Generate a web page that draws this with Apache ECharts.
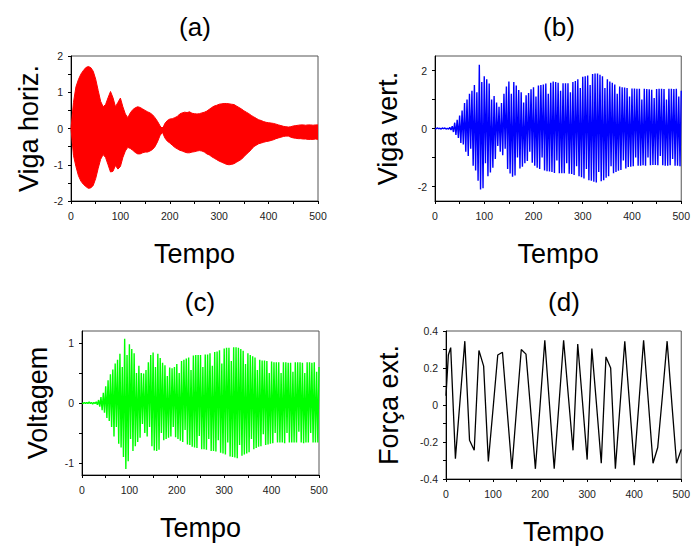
<!DOCTYPE html>
<html>
<head>
<meta charset="utf-8">
<script src="https://cdn.jsdelivr.net/npm/echarts@6/dist/echarts.min.js"></script>
<style>
  html, body { margin: 0; padding: 0; background: #fff; }
  #chart { width: 693px; height: 546px; }
</style>
</head>
<body>
<div id="chart"></div>
<script>
// ---------------- DATA ----------------
const panelTitles = ['(a)', '(b)', '(c)', '(d)'];
const yNames = ['Viga horiz.', 'Viga vert.', 'Voltagem', 'Força ext.'];
const xName = 'Tempo';
const xTickLabels = [0, 100, 200, 300, 400, 500];

// (a) horizontal beam: envelope of the dense oscillation, sampled every 5 time units (t = 0..500)
const aStep = 5;
const aUpper = [
  0, 0.72, 1.15, 1.35, 1.5, 1.6, 1.68, 1.71, 1.68, 1.58,
  1.36, 1.05, 0.75, 0.6, 0.66, 0.85, 1.02, 0.85, 0.6, 0.72,
  0.84, 0.6, 0.4, 0.3, 0.43, 0.52, 0.57, 0.6, 0.58, 0.54,
  0.5, 0.46, 0.43, 0.38, 0.3, 0.2, 0.08, -0.02, 0.14, 0.22,
  0.26, 0.27, 0.3, 0.33, 0.4, 0.43, 0.45, 0.44, 0.46, 0.42,
  0.41, 0.4, 0.41, 0.43, 0.45, 0.48, 0.53, 0.58, 0.62, 0.64,
  0.67, 0.68, 0.69, 0.69, 0.68, 0.67, 0.66, 0.62, 0.58, 0.54,
  0.49, 0.45, 0.41, 0.36, 0.32, 0.28, 0.24, 0.22, 0.19, 0.17,
  0.16, 0.15, 0.14, 0.12, 0.1, 0.08, 0.06, 0.05, 0.04, 0.05,
  0.07, 0.08, 0.09, 0.1, 0.1, 0.09, 0.1, 0.1, 0.09, 0.1,
  0.1
];
const aLower = [
  0, -0.74, -1.05, -1.3, -1.45, -1.54, -1.6, -1.65, -1.64, -1.57,
  -1.38, -1.1, -0.85, -0.72, -0.8, -1.0, -1.2, -1.18, -1.02, -1.12,
  -1.05, -0.8, -0.62, -0.52, -0.55, -0.6, -0.66, -0.7, -0.7, -0.67,
  -0.65, -0.65, -0.62, -0.58, -0.5, -0.37, -0.2, -0.1, -0.26, -0.35,
  -0.4, -0.46, -0.52, -0.56, -0.6, -0.62, -0.65, -0.67, -0.67, -0.65,
  -0.64, -0.62, -0.61, -0.62, -0.65, -0.7, -0.73, -0.78, -0.82, -0.86,
  -0.9, -0.93, -0.96, -0.99, -1.0, -0.99, -0.97, -0.93, -0.89, -0.85,
  -0.78, -0.71, -0.65, -0.58, -0.5, -0.46, -0.42, -0.4, -0.38, -0.36,
  -0.35, -0.33, -0.31, -0.28, -0.26, -0.24, -0.22, -0.21, -0.21, -0.24,
  -0.26, -0.27, -0.28, -0.28, -0.29, -0.29, -0.3, -0.3, -0.3, -0.29,
  -0.3
];

// (b) vertical beam, samples every 2.5 time units (t = 0..500)
const bStep = 2.5;
const bVals = [
  0, -0.01, 0.02, -0.01, 0.01, -0.02, 0.02, -0.01, 0.02, -0.02, 0.01, -0.02,
  0.04, -0.05, 0.08, -0.12,
  0.2, -0.22, 0.3, -0.33,
  0.45, -0.5, 0.62, -0.55,
  0.88, -0.8, 1.0, -0.95,
  1.2, -0.7, 1.3, -1.28,
  1.5, -1.45, 1.25, -1.8,
  2.2, -2.1, 1.6, -2.06,
  1.8, -1.2, 1.7, -1.65,
  1.55, -1.52, 1.0, -1.35,
  1.12, -1.05, 0.9, -0.6,
  0.75, -0.8, 0.88, -0.92,
  1.2, -0.7, 1.45, -1.4,
  1.62, -1.55, 1.2, -1.66,
  1.6, -1.62, 1.48, -1.0,
  1.33, -1.38, 1.25, -1.32,
  0.9, -1.2, 1.15, -1.12,
  1.22, -0.8, 1.35, -1.18,
  1.42, -1.28, 1.1, -1.35,
  1.48, -1.4, 1.5, -1.0,
  1.52, -1.45, 1.55, -1.47,
  1.2, -1.48, 1.58, -1.5,
  1.62, -1.53, 1.6, -1.1,
  1.58, -1.54, 1.3, -1.54,
  1.56, -1.54, 1.56, -1.2,
  1.56, -1.56, 1.25, -1.57,
  1.6, -1.6, 1.64, -1.3,
  1.7, -1.65, 1.4, -1.68,
  1.78, -1.72, 1.8, -1.4,
  1.83, -1.78, 1.5, -1.8,
  1.88, -1.84, 1.9, -1.86,
  1.9, -1.5, 1.85, -1.82,
  1.8, -1.78, 1.4, -1.7,
  1.7, -1.65, 1.62, -1.3,
  1.58, -1.54, 1.52, -1.5,
  1.2, -1.46, 1.45, -1.43,
  1.42, -1.1, 1.41, -1.38,
  1.4, -1.33, 1.1, -1.32,
  1.38, -1.3, 1.38, -1.0,
  1.37, -1.28, 1.37, -1.28,
  1.0, -1.27, 1.37, -1.28,
  1.36, -1.0, 1.35, -1.27,
  1.34, -1.26, 1.05, -1.26,
  1.36, -1.27, 1.37, -0.95,
  1.37, -1.27, 1.36, -1.28,
  1.0, -1.28, 1.37, -1.27,
  1.37, -1.05, 1.36, -1.28,
  1.37, -1.28, 1.1, -1.3,
  1.3
];

// (c) voltage, samples every 2.5 time units (t = 0..500)
const cStep = 2.5;
const cVals = [
  0, -0.01, 0.01, -0.01, 0.01, -0.01, 0.02, -0.01, 0.01, -0.02, 0.01, -0.01,
  0.02, -0.03, 0.05, -0.06,
  0.1, -0.12, 0.17, -0.16,
  0.28, -0.25, 0.38, -0.3,
  0.48, -0.4, 0.56, -0.56,
  0.66, -0.4, 0.72, -0.68,
  0.82, -0.74, 0.6, -0.9,
  1.07, -1.1, 0.8, -0.97,
  0.98, -0.6, 0.9, -0.8,
  0.83, -0.72, 0.5, -0.65,
  0.62, -0.58, 0.5, -0.35,
  0.49, -0.5, 0.55, -0.56,
  0.68, -0.4, 0.8, -0.72,
  0.84, -0.79, 0.6, -0.8,
  0.82, -0.78, 0.75, -0.5,
  0.67, -0.62, 0.63, -0.6,
  0.45, -0.58, 0.59, -0.56,
  0.58, -0.4, 0.6, -0.57,
  0.65, -0.6, 0.5, -0.63,
  0.7, -0.65, 0.72, -0.45,
  0.74, -0.69, 0.76, -0.7,
  0.55, -0.73, 0.79, -0.74,
  0.8, -0.75, 0.8, -0.55,
  0.8, -0.77, 0.6, -0.77,
  0.81, -0.78, 0.81, -0.6,
  0.83, -0.8, 0.62, -0.8,
  0.85, -0.81, 0.86, -0.62,
  0.88, -0.83, 0.66, -0.84,
  0.91, -0.86, 0.92, -0.66,
  0.92, -0.89, 0.7, -0.9,
  0.93, -0.91, 0.93, -0.92,
  0.92, -0.7, 0.9, -0.88,
  0.87, -0.86, 0.65, -0.84,
  0.83, -0.82, 0.8, -0.6,
  0.78, -0.77, 0.76, -0.75,
  0.55, -0.73, 0.72, -0.72,
  0.71, -0.52, 0.71, -0.7,
  0.7, -0.69, 0.5, -0.68,
  0.69, -0.67, 0.68, -0.5,
  0.68, -0.66, 0.68, -0.66,
  0.5, -0.66, 0.68, -0.67,
  0.68, -0.5, 0.67, -0.66,
  0.67, -0.66, 0.52, -0.66,
  0.68, -0.66, 0.68, -0.48,
  0.68, -0.66, 0.67, -0.67,
  0.5, -0.66, 0.68, -0.66,
  0.68, -0.5, 0.67, -0.66,
  0.68, -0.66, 0.52, -0.66,
  0.6
];

// (d) external force
const dTime = [0, 5, 10, 20, 30, 40, 50, 60, 70, 80, 90, 100, 110, 120, 130, 140, 150, 160, 170, 180,
  190, 200, 210, 220, 230, 240, 250, 260, 270, 280, 290, 300, 310, 320, 330, 340, 350, 360, 370, 380,
  390, 400, 410, 420, 430, 440, 450, 460, 470, 480, 490, 500];
const dVals = [0.05, 0.27, 0.31, -0.29, 0.03, 0.345, -0.19, -0.245, 0.295, 0.21, -0.305, -0.02, 0.27, 0.285, -0.03, -0.345, -0.02, 0.3, 0.275, -0.03,
  -0.345, 0.0, 0.35, 0.0, -0.345, 0.0, 0.35, 0.05, -0.245, 0.33, 0.02, -0.295, 0.305, 0.0, -0.315, 0.26, 0.2, -0.345, 0.0, 0.345,
  0.01, -0.325, 0.01, 0.35, 0.02, -0.315, -0.23, 0.05, 0.345, 0.01, -0.315, -0.24];

// y-axis ranges / labels / ticks
const yMin = [-2, -2.5, -1.2, -0.4];
const yMax = [2, 2.5, 1.2, 0.4];
const yLabels = [[-2, -1, 0, 1, 2], [-2, 0, 2], [-1, 0, 1], [-0.4, -0.2, 0, 0.2, 0.4]];
const yTicks = [[-2, -1.5, -1, -0.5, 0, 0.5, 1, 1.5, 2], [-2, -1, 0, 1, 2], [-1, -0.5, 0, 0.5, 1],
  [-0.4, -0.3, -0.2, -0.1, 0, 0.1, 0.2, 0.3, 0.4]];
const xTicks = [0, 50, 100, 150, 200, 250, 300, 350, 400, 450, 500];

// ---------------- CHART ----------------
const FONT = "'Liberation Sans', Arial, sans-serif";
const pair = (step, vals) => vals.map((v, i) => [i * step, v]);

const grids = [
  { left: 71, top: 56, width: 247, height: 145 },
  { left: 435, top: 56, width: 248, height: 145 },
  { left: 82, top: 331, width: 237, height: 144 },
  { left: 446, top: 331, width: 237, height: 149 }
];
const yNameGaps = [29, 34, 31, 44];
const titlePos = [[195, 26.5], [559, 26.5], [200, 302], [564, 302]];

const xAxes = grids.map((g, i) => ({
  type: 'value', gridIndex: i, min: 0, max: 500,
  name: xName, nameLocation: 'middle', nameGap: 39,
  nameTextStyle: { fontFamily: FONT, fontSize: 27, color: '#000' },
  axisLine: { show: true, onZero: false, lineStyle: { color: '#000', width: 1 } },
  axisTick: { show: true, length: 3, inside: false, customValues: xTicks, lineStyle: { color: '#000' } },
  axisLabel: { show: true, customValues: xTickLabels, margin: 9, fontFamily: FONT, fontSize: 10.5, color: '#222' },
  splitLine: { show: false }
}));
const yAxes = grids.map((g, i) => ({
  type: 'value', gridIndex: i, min: yMin[i], max: yMax[i],
  name: yNames[i], nameLocation: 'middle', nameGap: yNameGaps[i],
  nameTextStyle: { fontFamily: FONT, fontSize: 27, color: '#000' },
  axisLine: { show: true, onZero: false, lineStyle: { color: '#000', width: 1 } },
  axisTick: { show: true, length: 3, inside: false, customValues: yTicks[i], lineStyle: { color: '#000' } },
  axisLabel: { show: true, customValues: yLabels[i], margin: 8, fontFamily: FONT, fontSize: 10.5, color: '#222' },
  splitLine: { show: false }
}));

const option = {
  animation: false,
  backgroundColor: '#fff',
  grid: grids.map(g => Object.assign({ show: true, borderColor: '#555', borderWidth: 1, containLabel: false }, g)),
  xAxis: xAxes,
  yAxis: yAxes,
  graphic: panelTitles.map((t, i) => ({
    type: 'text', x: titlePos[i][0], y: titlePos[i][1],
    style: { text: t, font: '26px ' + FONT, fill: '#000', textAlign: 'center', textVerticalAlign: 'middle', align: 'center', verticalAlign: 'middle' }
  })),
  series: [
    // (a): the two envelope halves are filled towards the centre and overlap slightly so no seam shows
    { type: 'line', name: 'aUpper', xAxisIndex: 0, yAxisIndex: 0, data: pair(aStep, aUpper), showSymbol: false, symbol: 'none',
      lineStyle: { color: '#ff0000', width: 1 }, areaStyle: { color: '#ff0000', opacity: 1, origin: -0.04 } },
    { type: 'line', name: 'aLower', xAxisIndex: 0, yAxisIndex: 0, data: pair(aStep, aLower), showSymbol: false, symbol: 'none',
      lineStyle: { color: '#ff0000', width: 1 }, areaStyle: { color: '#ff0000', opacity: 1, origin: 0.04 } },
    { type: 'line', name: 'b', xAxisIndex: 1, yAxisIndex: 1, data: pair(bStep, bVals), showSymbol: false, symbol: 'none',
      lineStyle: { color: '#0000ff', width: 1.4 } },
    { type: 'line', name: 'c', xAxisIndex: 2, yAxisIndex: 2, data: pair(cStep, cVals), showSymbol: false, symbol: 'none',
      lineStyle: { color: '#00ff00', width: 1.4 } },
    { type: 'line', name: 'd', xAxisIndex: 3, yAxisIndex: 3, data: dTime.map((t, i) => [t, dVals[i]]), showSymbol: false, symbol: 'none',
      lineStyle: { color: '#000000', width: 1.3 } }
  ]
};

const chart = echarts.init(document.getElementById('chart'), null, { renderer: 'svg', width: 693, height: 546 });
chart.setOption(option);
</script>
</body>
</html>
